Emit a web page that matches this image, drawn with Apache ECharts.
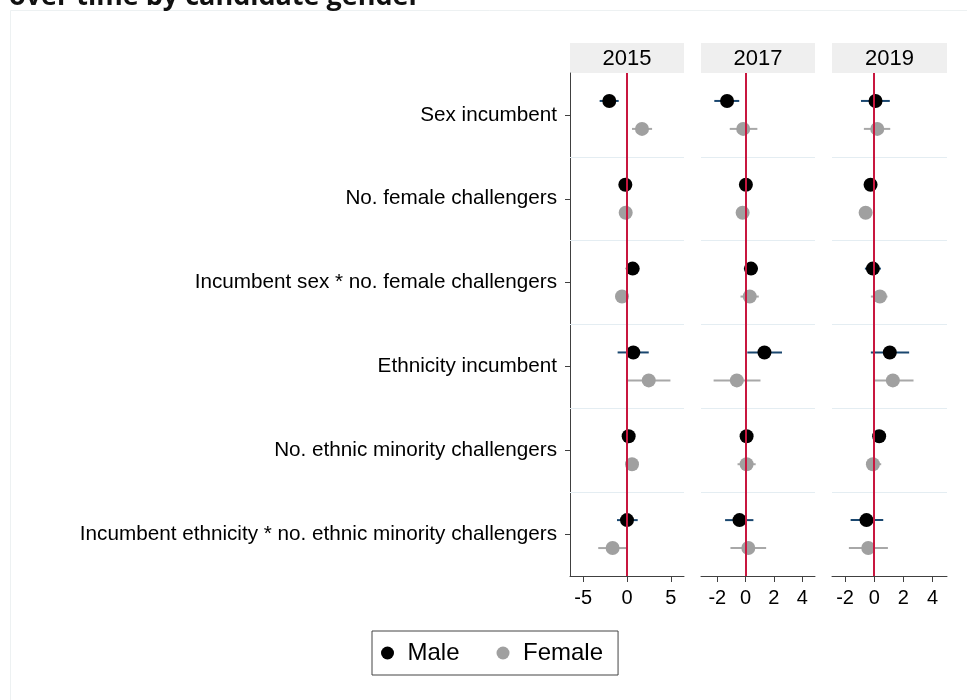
<!DOCTYPE html>
<html>
<head>
<meta charset="utf-8">
<script src="https://cdn.jsdelivr.net/npm/echarts@6/dist/echarts.min.js"></script>
<style>
  html, body { margin: 0; padding: 0; background: #ffffff; }
  #chart { width: 967px; height: 700px; }
</style>
</head>
<body>
<div id="chart"></div>
<script>
// Coefficient plot: effects on vote share by candidate gender, one panel per election year.
const categories = [
  'Sex incumbent',
  'No. female challengers',
  'Incumbent sex * no. female challengers',
  'Ethnicity incumbent',
  'No. ethnic minority challengers',
  'Incumbent ethnicity * no. ethnic minority challengers'
];
const years = ['2015', '2017', '2019'];
const groups = ['Male', 'Female'];

// 2015
const maleEst2015 = [-2.02, -0.19, 0.65, 0.72, 0.19, 0.00];
const maleLo2015  = [-3.12, -0.55, 0.30, -1.07, -0.15, -1.14];
const maleHi2015  = [-0.95, 0.17, 1.00, 2.48, 0.53, 1.22];
const femaleEst2015 = [1.71, -0.15, -0.57, 2.48, 0.57, -1.64];
const femaleLo2015  = [0.57, -0.50, -0.95, 0.00, 0.20, -3.28];
const femaleHi2015  = [2.86, 0.20, -0.19, 4.95, 0.94, 0.00];

// 2017
const maleEst2017 = [-1.31, 0.02, 0.38, 1.33, 0.07, -0.43];
const maleLo2017  = [-2.21, -0.20, -0.12, 0.12, -0.18, -1.45];
const maleHi2017  = [-0.45, 0.24, 0.86, 2.57, 0.32, 0.55];
const femaleEst2017 = [-0.17, -0.21, 0.29, -0.62, 0.07, 0.19];
const femaleLo2017  = [-1.12, -0.42, -0.36, -2.26, -0.57, -1.07];
const femaleHi2017  = [0.83, 0.00, 0.93, 1.05, 0.71, 1.45];

// 2019
const maleEst2019 = [0.09, -0.25, -0.09, 1.07, 0.34, -0.53];
const maleLo2019  = [-0.91, -0.45, -0.64, -0.23, 0.12, -1.62];
const maleHi2019  = [1.07, -0.05, 0.46, 2.40, 0.56, 0.62];
const femaleEst2019 = [0.21, -0.59, 0.39, 1.28, -0.09, -0.41];
const femaleLo2019  = [-0.71, -0.80, -0.23, -0.07, -0.53, -1.74];
const femaleHi2019  = [1.10, -0.38, 0.91, 2.70, 0.48, 0.94];

// x-axis ranges and tick labels for each panel
const xMin = [-6.5, -3.15, -2.9];
const xMax = [6.5, 4.9, 5.0];
const xTicks2015 = [-5, 0, 5];
const xTicks2017 = [-2, 0, 2, 4];
const xTicks2019 = [-2, 0, 2, 4];

const panelData = [
  { ticks: xTicks2015, male: [maleEst2015, maleLo2015, maleHi2015], female: [femaleEst2015, femaleLo2015, femaleHi2015] },
  { ticks: xTicks2017, male: [maleEst2017, maleLo2017, maleHi2017], female: [femaleEst2017, femaleLo2017, femaleHi2017] },
  { ticks: xTicks2019, male: [maleEst2019, maleLo2019, maleHi2019], female: [femaleEst2019, femaleLo2019, femaleHi2019] }
];

// layout
const FONT = "'Liberation Sans', Arial, Helvetica, sans-serif";
const panelLeft = [570, 701, 832];
const panelWidth = [114, 114, 115];
const plotTop = 73;
const plotHeight = 503;
const headerTop = 43;
const headerHeight = 30;
const rowOffset = 1 / 6;   // vertical shift of the two groups within a row

const colors = {
  maleDot: '#000000',
  maleCI: '#1a476f',
  femaleDot: '#a0a0a0',
  femaleCI: '#a8a8a8',
  zero: '#c8173f',
  sep: '#e4edf2',
  axis: '#404040',
  header: '#efefef'
};

function ciRender(params, api) {
  const y = api.value(2);
  const a = api.coord([api.value(0), y]);
  const b = api.coord([api.value(1), y]);
  return {
    type: 'line',
    shape: { x1: a[0], y1: a[1], x2: b[0], y2: b[1] },
    style: { stroke: api.visual('color'), lineWidth: 2 }
  };
}

const grids = [], xAxes = [], yAxes = [], series = [], graphics = [];

panelData.forEach((p, k) => {
  grids.push({ left: panelLeft[k], top: plotTop, width: panelWidth[k], height: plotHeight,
               containLabel: false, outerBoundsMode: 'none' });

  xAxes.push({
    type: 'value', gridIndex: k, min: xMin[k], max: xMax[k], position: 'bottom',
    axisLine: { show: true, onZero: false, lineStyle: { color: colors.axis, width: 1 } },
    axisTick: { show: true, length: 6, lineStyle: { color: colors.axis }, customValues: p.ticks },
    axisLabel: { customValues: p.ticks, fontFamily: FONT, fontSize: 20, color: '#000', margin: 12 },
    splitLine: { show: false }
  });

  // numeric row positions used by the marks
  yAxes.push({
    type: 'value', gridIndex: k, min: 0, max: categories.length, inverse: true, position: 'left',
    show: false, splitLine: { show: false }
  });

  const yMale = categories.map((c, i) => i + 0.5 - rowOffset);
  const yFemale = categories.map((c, i) => i + 0.5 + rowOffset);
  const yi = yAxes.length - 1;

  series.push({
    name: 'Male CI', type: 'custom', xAxisIndex: k, yAxisIndex: yi, z: 2,
    renderItem: ciRender, itemStyle: { color: colors.maleCI },
    encode: { x: [0, 1], y: 2 },
    data: p.male[1].map((lo, i) => [lo, p.male[2][i], yMale[i]]),
    markLine: {
      silent: true, symbol: 'none', label: { show: false },
      data: [1, 2, 3, 4, 5].map(v => ({ yAxis: v, lineStyle: { color: colors.sep, width: 1, type: 'solid' } }))
        .concat([{ xAxis: 0, lineStyle: { color: colors.zero, width: 2, type: 'solid' } }])
    }
  });
  series.push({
    name: 'Female CI', type: 'custom', xAxisIndex: k, yAxisIndex: yi, z: 2,
    renderItem: ciRender, itemStyle: { color: colors.femaleCI },
    encode: { x: [0, 1], y: 2 },
    data: p.female[1].map((lo, i) => [lo, p.female[2][i], yFemale[i]])
  });
  series.push({
    name: groups[0], type: 'scatter', xAxisIndex: k, yAxisIndex: yi, z: 4,
    symbol: 'circle', symbolSize: 14, itemStyle: { color: colors.maleDot, opacity: 1 },
    data: p.male[0].map((v, i) => [v, yMale[i]])
  });
  series.push({
    name: groups[1], type: 'scatter', xAxisIndex: k, yAxisIndex: yi, z: 4,
    symbol: 'circle', symbolSize: 14, itemStyle: { color: colors.femaleDot, opacity: 1 },
    data: p.female[0].map((v, i) => [v, yFemale[i]])
  });

  // panel header strip
  graphics.push({
    type: 'group', left: panelLeft[k], top: headerTop,
    children: [
      { type: 'rect', shape: { x: 0, y: 0, width: panelWidth[k], height: headerHeight }, style: { fill: colors.header } },
      { type: 'text', x: panelWidth[k] / 2, y: headerHeight / 2 + 1,
        style: { text: years[k], font: '22px ' + FONT, fill: '#000', align: 'center', verticalAlign: 'middle' } }
    ]
  });
});

// row labels on the first panel
yAxes.push({
  type: 'category', gridIndex: 0, data: categories, inverse: true, boundaryGap: true,
  position: 'left', offset: 0,
  axisLine: { show: true, onZero: false, lineStyle: { color: colors.axis, width: 1 } },
  axisTick: { show: true, alignWithLabel: true, length: 5, lineStyle: { color: colors.axis } },
  axisLabel: { fontFamily: FONT, fontSize: 20.7, color: '#000', margin: 13 },
  splitLine: { show: false }
});

// outer frame and heading fragment
graphics.unshift(
  { type: 'rect', shape: { x: 10.5, y: 10.5, width: 1000, height: 1000 },
    style: { fill: 'none', stroke: '#edf1f2', lineWidth: 1 }, z: -1 },
  { type: 'text', x: 9, y: -3,
    style: { text: 'over time by candidate gender', font: 'bold 27px "Open Sans", sans-serif', fill: '#111', verticalAlign: 'middle' } }
);

const chart = echarts.init(document.getElementById('chart'), null, { renderer: 'canvas' });
chart.setOption({
  animation: false,
  backgroundColor: '#ffffff',
  grid: grids,
  xAxis: xAxes,
  yAxis: yAxes,
  legend: {
    data: groups, left: 372, top: 631, orient: 'horizontal',
    icon: 'circle', itemWidth: 30, itemHeight: 13, itemGap: 37,
    padding: [10, 15, 10, 9],
    borderColor: '#444', borderWidth: 1,
    textStyle: { fontFamily: FONT, fontSize: 24, color: '#000' },
    selectedMode: false
  },
  series: series,
  graphic: graphics
});
</script>
</body>
</html>
